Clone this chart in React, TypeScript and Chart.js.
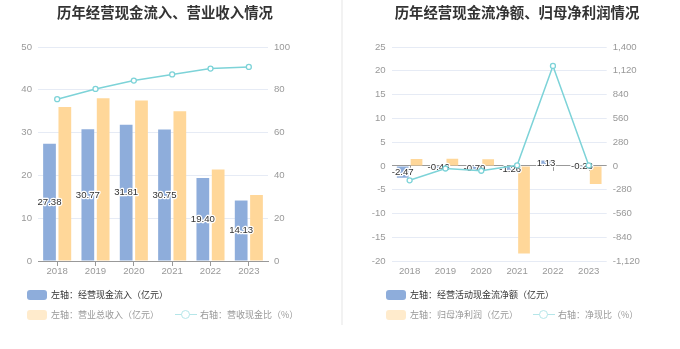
import React, { useEffect, useRef } from 'react';
import { Chart, registerables } from 'chart.js';
Chart.register(...registerables);

const years = ['2018', '2019', '2020', '2021', '2022', '2023'];
// left chart
const cashInflow = [27.38, 30.77, 31.81, 30.75, 19.4, 14.13];
const revenue = [36.0, 38.0, 37.5, 35.0, 21.4, 15.4];
const cashRevenueRatio = [75.6, 80.4, 84.3, 87.2, 89.9, 90.7];
// right chart
const netCashFlow = [-2.47, -0.46, -0.79, -1.26, 1.13, -0.23];
const netProfit = [1.45, 1.5, 1.4, -18.4, 0.096, -3.8];
const netCashRatio = [-170, -31, -57, 7, 1177, 6];

const leftAxisA = { min: 0, max: 50, step: 10 };
const rightAxisA = { min: 0, max: 100, step: 20 };
const leftAxisB = { min: -20, max: 25, step: 5 };
const rightAxisB = { min: -1120, max: 1400, step: 280 };

const BLUE = '#8EADDB';
const YELLOW = '#FFD799';
const CYAN = '#7DD3D8';
const GRID = '#E6EBF5';
const TICK = '#999';
const FONT = "'Liberation Sans', 'Noto Sans CJK SC', sans-serif";

const barLabelPlugin = {
  id: 'barLabels',
  afterDatasetDraw(chart: any, args: any) {
    const ds = chart.data.datasets[args.index];
    if (!ds.showLabels) return;
    const ctx = chart.ctx;
    ctx.save();
    ctx.font = `9.6px ${FONT}`;
    ctx.textAlign = 'center';
    ctx.textBaseline = 'middle';
    ctx.lineWidth = 2.5;
    ctx.lineJoin = 'round';
    ctx.strokeStyle = '#fff';
    ctx.fillStyle = '#333';
    args.meta.data.forEach((el: any, i: number) => {
      const p = el.getProps(['x', 'y', 'base'], true);
      const cy = (p.y + p.base) / 2;
      const t = Number(ds.data[i]).toFixed(2);
      ctx.strokeText(t, p.x, cy);
      ctx.fillText(t, p.x, cy);
    });
    ctx.restore();
  },
};

const zeroTickPlugin = {
  id: 'zeroTicks',
  beforeDatasetsDraw(chart: any, _a: any, opts: any) {
    if (!opts || !opts.enabled) return;
    const ctx = chart.ctx;
    const xs = chart.scales.x;
    const y0 = chart.scales.y.getPixelForValue(0);
    ctx.save();
    ctx.strokeStyle = '#999';
    ctx.lineWidth = 1;
    for (let i = 0; i < chart.data.labels.length; i++) {
      const x = Math.round(xs.getPixelForValue(i)) + 0.5;
      ctx.beginPath();
      ctx.moveTo(x, y0);
      ctx.lineTo(x, y0 + 5);
      ctx.stroke();
    }
    ctx.restore();
  },
};

function makeConfig(opts: any) {
  const { barA, barB, line, axL, axR, leftW, rightW, zeroAxis, catPct, barPct } = opts;
  return {
    type: 'bar',
    data: {
      labels: years,
      datasets: [
        {
          type: 'line',
          data: line,
          yAxisID: 'y1',
          borderColor: CYAN,
          borderWidth: 1.5,
          pointRadius: 2.5,
          pointBorderWidth: 1.3,
          pointBackgroundColor: '#fff',
          pointBorderColor: CYAN,
          tension: 0,
          order: 0,
        },
        {
          type: 'bar',
          data: barA,
          yAxisID: 'y',
          backgroundColor: BLUE,
          categoryPercentage: catPct,
          barPercentage: barPct,
          order: 1,
          showLabels: true,
        },
        {
          type: 'bar',
          data: barB,
          yAxisID: 'y',
          backgroundColor: YELLOW,
          categoryPercentage: catPct,
          barPercentage: barPct,
          order: 2,
        },
      ],
    },
    options: {
      animation: false,
      responsive: false,
      maintainAspectRatio: false,
      layout: { padding: { top: 47, bottom: 68, left: 0, right: 0 } },
      plugins: {
        legend: { display: false },
        tooltip: { enabled: false },
        title: { display: false },
        zeroTicks: { enabled: zeroAxis },
      },
      scales: {
        x: {
          offset: true,
          grid: zeroAxis
            ? { display: false, drawTicks: false }
            : { display: true, drawOnChartArea: false, drawTicks: true, tickLength: 5, offset: false, color: '#999' },
          border: zeroAxis ? { display: false } : { display: true, color: '#999', width: 1 },
          ticks: { color: TICK, font: { size: 9.6, family: FONT }, padding: zeroAxis ? 5 : 0 },
          afterFit: (s: any) => { s.height = 20; },
        },
        y: {
          position: 'left',
          min: axL.min,
          max: axL.max,
          ticks: { stepSize: axL.step, color: TICK, font: { size: 9.6, family: FONT }, padding: 6 },
          grid: {
            color: (c: any) => (zeroAxis && c.tick && c.tick.value === 0 ? '#999' : GRID),
            drawTicks: false,
          },
          border: { display: false },
          afterFit: (s: any) => { s.width = leftW; },
        },
        y1: {
          position: 'right',
          min: axR.min,
          max: axR.max,
          ticks: { stepSize: axR.step, color: TICK, font: { size: 9.6, family: FONT }, padding: 6 },
          grid: { display: false, drawTicks: false },
          border: { display: false },
          afterFit: (s: any) => { s.width = rightW; },
        },
      },
    },
    plugins: [barLabelPlugin, zeroTickPlugin],
  };
}

function ChartCanvas({ config, left }: { config: any; left: number }) {
  const ref = useRef<HTMLCanvasElement>(null);
  useEffect(() => {
    const chart = new Chart(ref.current as HTMLCanvasElement, config);
    return () => chart.destroy();
  }, []);
  return (
    <canvas
      ref={ref}
      width={340}
      height={349}
      style={{ position: 'absolute', left, top: 0, width: 340, height: 349 }}
    />
  );
}

function BoxIcon({ x, y, color }: { x: number; y: number; color: string }) {
  return (
    <div
      style={{ position: 'absolute', left: x, top: y, width: 20, height: 10, borderRadius: 3, background: color }}
    />
  );
}

function LineIcon({ x, y, color }: { x: number; y: number; color: string }) {
  return (
    <div style={{ position: 'absolute', left: x, top: y - 5, width: 22, height: 10 }}>
      <div style={{ position: 'absolute', left: 0, top: 4, width: 22, height: 1.5, background: color }} />
      <div
        style={{
          position: 'absolute', left: 6, top: 0.5, width: 7, height: 7, borderRadius: '50%',
          border: `1.5px solid ${color}`, background: '#fff',
        }}
      />
    </div>
  );
}

function Label({ x, y, text, color }: { x: number; y: number; text: string; color: string }) {
  return (
    <div
      style={{
        position: 'absolute', left: x, top: y - 7, height: 14, lineHeight: '14px', fontSize: 9,
        color, fontFamily: "'Noto Sans CJK SC', sans-serif", whiteSpace: 'nowrap',
      }}
    >
      {text}
    </div>
  );
}

function Title({ cx, text }: { cx: number; text: string }) {
  return (
    <div
      style={{
        position: 'absolute', left: cx - 150, width: 300, top: 2, height: 20, lineHeight: '20px',
        textAlign: 'center', fontSize: 14.4, fontWeight: 'bold', color: '#333',
        fontFamily: "'Noto Sans CJK SC', sans-serif", whiteSpace: 'nowrap',
      }}
    >
      {text}
    </div>
  );
}

export default function App() {
  const cfgA = makeConfig({
    barA: cashInflow, barB: revenue, line: cashRevenueRatio, axL: leftAxisA, axR: rightAxisA,
    leftW: 38, rightW: 72, zeroAxis: false, catPct: 0.8, barPct: 0.83,
  });
  const cfgB = makeConfig({
    barA: netCashFlow, barB: netProfit, line: netCashRatio, axL: leftAxisB, axR: rightAxisB,
    leftW: 51.7, rightW: 73.3, zeroAxis: true, catPct: 0.77, barPct: 0.85,
  });
  return (
    <div style={{ position: 'fixed', left: 0, top: 0, width: 680, height: 349, background: '#fff', overflow: 'hidden' }}>
      <ChartCanvas config={cfgA} left={0} />
      <ChartCanvas config={cfgB} left={340} />
      <div style={{ position: 'absolute', left: 341, top: 0, width: 1.5, height: 325, background: '#F2F2F2' }} />
      <Title cx={165} text="历年经营现金流入、营业收入情况" />
      <Title cx={517} text="历年经营现金流净额、归母净利润情况" />
      <BoxIcon x={27} y={290} color={BLUE} />
      <Label x={51} y={294.5} text="左轴：经营现金流入（亿元）" color="#333" />
      <BoxIcon x={27} y={310} color="#FFEBCC" />
      <Label x={51} y={314.5} text="左轴：营业总收入（亿元）" color="#999" />
      <LineIcon x={175} y={314.5} color="#B5E6E9" />
      <Label x={200} y={314.5} text="右轴：营收现金比（%）" color="#999" />
      <BoxIcon x={386} y={290} color={BLUE} />
      <Label x={410} y={294.5} text="左轴：经营活动现金流净额（亿元）" color="#333" />
      <BoxIcon x={386} y={310} color="#FFEBCC" />
      <Label x={410} y={314.5} text="左轴：归母净利润（亿元）" color="#999" />
      <LineIcon x={533} y={314.5} color="#B5E6E9" />
      <Label x={558} y={314.5} text="右轴：净现比（%）" color="#999" />
    </div>
  );
}
